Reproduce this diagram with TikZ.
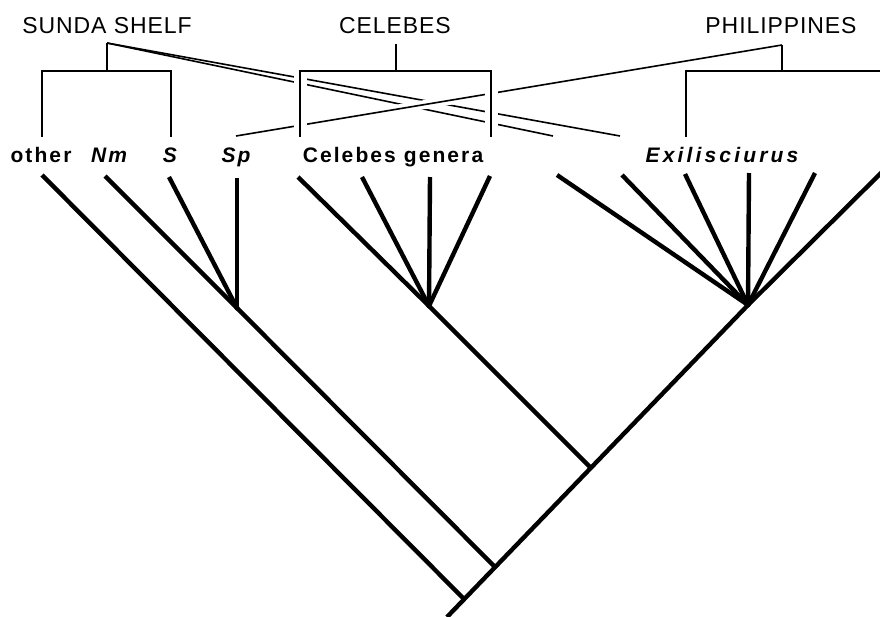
\documentclass[tikz,border=0pt]{standalone}
\usepackage{fontspec}
\setmainfont{Liberation Sans}
\newfontfamily\taxonfont[LetterSpace=10]{Liberation Sans}
\newfontfamily\genusfont[LetterSpace=15]{Liberation Sans}
\newfontfamily\regionfont[LetterSpace=4]{Liberation Sans}
\begin{document}
\begin{tikzpicture}[x=1pt, y=-1pt,
clade/.style={line width=4.4pt},
area/.style={line width=1.6pt},
bridge/.style={area, preaction={draw=white, line width=#1}},
taxon/.style={anchor=base, inner sep=0pt, font=\fontsize{21}{25}\taxonfont\bfseries},
region/.style={anchor=base, inner sep=0pt, font=\fontsize{23}{27}\regionfont}
]
\clip (0,0) rectangle (880,616);
%Labels
\node[region] (sunda) at (107,33) {SUNDA SHELF};
\node[region] (celebes) at (395,33) {CELEBES};
\node[region] (phil) at (781,33) {PHILIPPINES};
\node[taxon] (other) at (41,162) {other};
\node[taxon] (nm) at (109,162) {\itshape Nm};
\node[taxon] (s) at (170,162) {\itshape S};
\node[taxon] (sp) at (236,162) {\itshape Sp};
\node[taxon] (celgen) at (393,162) {Celebes genera};
\node[taxon, font=\fontsize{21}{25}\genusfont\bfseries\itshape] (exil) at (722,162) {Exilisciurus};
%Area cladogram
\coordinate (sunTop) at (107,43);
\coordinate (sunL) at (42,137);
\coordinate (sunR) at (171,137);
\coordinate (celTop) at (396,44);
\coordinate (celL) at (300,137);
\coordinate (celR) at (491,137);
\coordinate (phiTop) at (782,45);
\coordinate (phiL) at (686,137);
\coordinate (phiR) at (884,71);
\coordinate (spEnd) at (236,136);
\coordinate (sunA) at (620,136);
\coordinate (sunB) at (553,136);
\draw[area] (sunTop) -- (sunA);
\draw[area] (sunTop) -- (sunB);
\draw[bridge=9pt] (spEnd) -- (phiTop);
\draw[bridge=13pt] (celL |- 0,71) -- (celL);
\draw[bridge=13pt] (celR |- 0,71) -- (celR);
\draw[area] (sunTop) -- (107,71) -| (sunL) (107,71) -| (sunR);
\draw[area] (celTop) -- (396,71) -| (celL) (396,71) -| (celR);
\draw[area] (phiTop) -- (782,71) -| (phiL) (782,71) -- (phiR);
%Cladogram
\coordinate (root) at (447,617);
\coordinate (n1) at (463,598);
\coordinate (n2) at (494,566);
\coordinate (n3) at (591,468);
\coordinate (nE) at (748,305);
\coordinate (nS) at (237,308);
\coordinate (nC) at (429,306);
\coordinate (tOther) at (42,175);
\coordinate (tNm) at (105,176);
\coordinate (tS) at (169,177);
\coordinate (tSp) at (237,178);
\coordinate (tC1) at (298,177);
\coordinate (tC2) at (362,177);
\coordinate (tC3) at (430,177);
\coordinate (tC4) at (490,176);
\coordinate (tE1) at (557,175);
\coordinate (tE2) at (622,175);
\coordinate (tE3) at (685,174);
\coordinate (tE4) at (749,173);
\coordinate (tE5) at (815,173);
\coordinate (tE6) at (882,172);
\draw[clade] (root) -- (nE) -- (tE6);
\draw[clade] (n1) -- (tOther);
\draw[clade] (n2) -- (nS) -- (tNm);
\draw[clade] (n3) -- (nC) -- (tC1);
\foreach \t in {tS,tSp} \draw[clade] (nS) -- (\t);
\foreach \t in {tC2,tC3,tC4} \draw[clade] (nC) -- (\t);
\foreach \i in {1,...,5} \draw[clade] (nE) -- (tE\i);
\foreach \n in {nS,nC,nE} \fill (\n) circle (2.6pt);
\end{tikzpicture}
\end{document}
